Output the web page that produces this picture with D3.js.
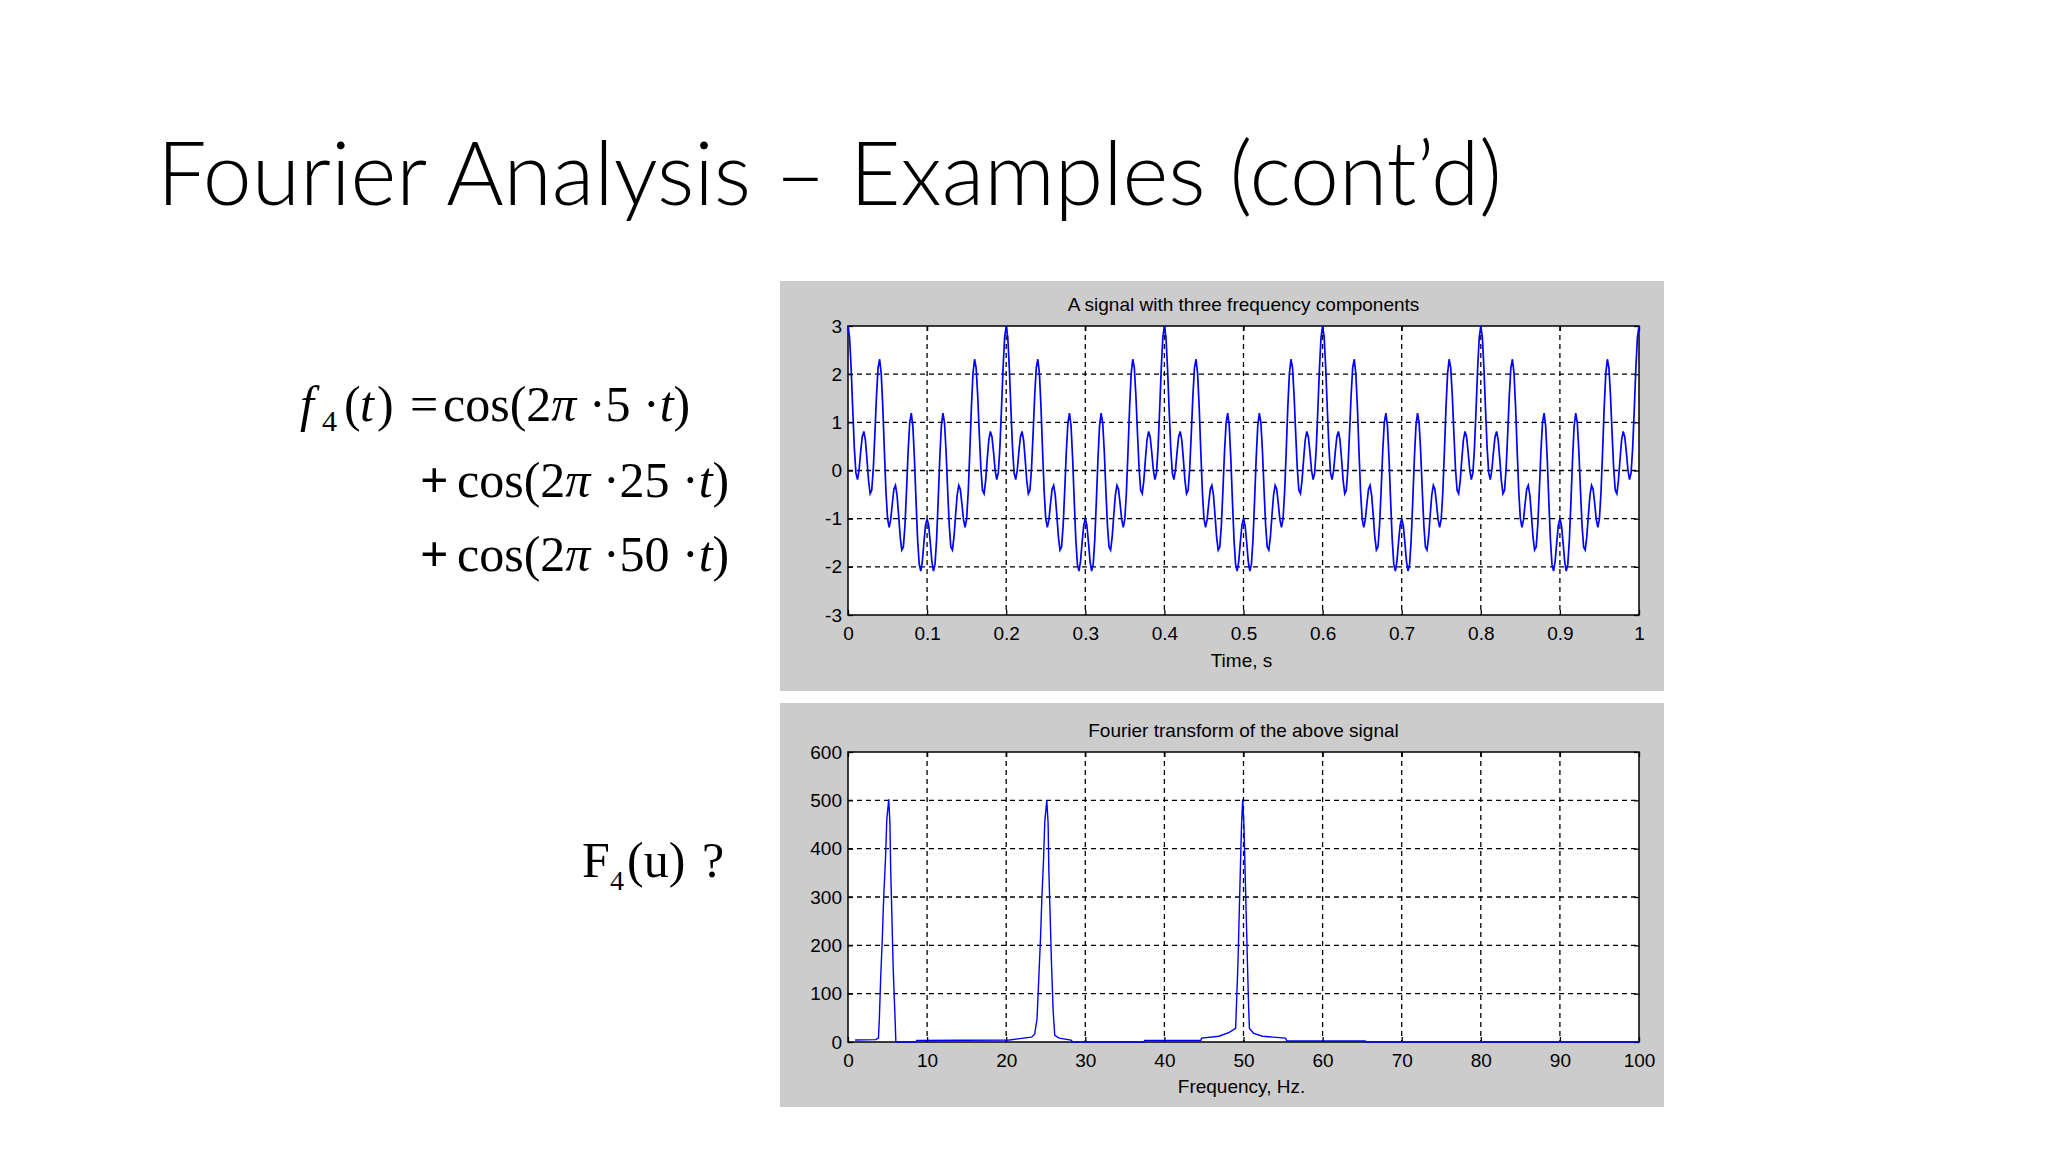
<!DOCTYPE html>
<html>
<head>
<meta charset="utf-8">
<script src="https://cdn.jsdelivr.net/npm/d3@7"></script>
<style>
  html, body { margin: 0; padding: 0; background: #ffffff; }
  svg { display: block; }
</style>
</head>
<body>
<svg id="slide" width="2048" height="1152"></svg>
<script>
// ---------------- DATA ----------------
const slideTitle = "Fourier Analysis – Examples (cont’d)";
const topTitle = "A signal with three frequency components";
const topXLabel = "Time, s";
const bottomTitle = "Fourier transform of the above signal";
const bottomXLabel = "Frequency, Hz.";

const timeTicks = [0, 0.1, 0.2, 0.3, 0.4, 0.5, 0.6, 0.7, 0.8, 0.9, 1];
const timeTickLabels = ["0", "0.1", "0.2", "0.3", "0.4", "0.5", "0.6", "0.7", "0.8", "0.9", "1"];
const ampTicks = [-3, -2, -1, 0, 1, 2, 3];
const ampTickLabels = ["-3", "-2", "-1", "0", "1", "2", "3"];
const freqTicks = [0, 10, 20, 30, 40, 50, 60, 70, 80, 90, 100];
const magTicks = [0, 100, 200, 300, 400, 500, 600];

// time step between signal samples (s)
const sampleStep = 0.002;
// signal samples (501 samples, 0..1 s)
const signalValues = [
3.00,2.76,2.11,1.26,0.47,-0.05,-0.19,0.01,0.38,0.70,
0.81,0.63,0.23,-0.21,-0.48,-0.41,0.04,0.76,1.54,2.13,
2.31,2.01,1.31,0.40,-0.44,-1.00,-1.18,-1.02,-0.69,-0.39,
-0.31,-0.51,-0.93,-1.38,-1.65,-1.59,-1.14,-0.41,0.39,0.99,
1.19,0.92,0.24,-0.63,-1.43,-1.95,-2.09,-1.88,-1.49,-1.14,
-1.00,-1.14,-1.49,-1.88,-2.09,-1.95,-1.43,-0.63,0.24,0.92,
1.19,0.99,0.39,-0.41,-1.14,-1.59,-1.65,-1.38,-0.93,-0.51,
-0.31,-0.39,-0.69,-1.02,-1.18,-1.00,-0.44,0.40,1.31,2.01,
2.31,2.13,1.54,0.76,0.04,-0.41,-0.48,-0.21,0.23,0.63,
0.81,0.70,0.38,0.01,-0.19,-0.05,0.47,1.26,2.11,2.76,
3.00,2.76,2.11,1.26,0.47,-0.05,-0.19,0.01,0.38,0.70,
0.81,0.63,0.23,-0.21,-0.48,-0.41,0.04,0.76,1.54,2.13,
2.31,2.01,1.31,0.40,-0.44,-1.00,-1.18,-1.02,-0.69,-0.39,
-0.31,-0.51,-0.93,-1.38,-1.65,-1.59,-1.14,-0.41,0.39,0.99,
1.19,0.92,0.24,-0.63,-1.43,-1.95,-2.09,-1.88,-1.49,-1.14,
-1.00,-1.14,-1.49,-1.88,-2.09,-1.95,-1.43,-0.63,0.24,0.92,
1.19,0.99,0.39,-0.41,-1.14,-1.59,-1.65,-1.38,-0.93,-0.51,
-0.31,-0.39,-0.69,-1.02,-1.18,-1.00,-0.44,0.40,1.31,2.01,
2.31,2.13,1.54,0.76,0.04,-0.41,-0.48,-0.21,0.23,0.63,
0.81,0.70,0.38,0.01,-0.19,-0.05,0.47,1.26,2.11,2.76,
3.00,2.76,2.11,1.26,0.47,-0.05,-0.19,0.01,0.38,0.70,
0.81,0.63,0.23,-0.21,-0.48,-0.41,0.04,0.76,1.54,2.13,
2.31,2.01,1.31,0.40,-0.44,-1.00,-1.18,-1.02,-0.69,-0.39,
-0.31,-0.51,-0.93,-1.38,-1.65,-1.59,-1.14,-0.41,0.39,0.99,
1.19,0.92,0.24,-0.63,-1.43,-1.95,-2.09,-1.88,-1.49,-1.14,
-1.00,-1.14,-1.49,-1.88,-2.09,-1.95,-1.43,-0.63,0.24,0.92,
1.19,0.99,0.39,-0.41,-1.14,-1.59,-1.65,-1.38,-0.93,-0.51,
-0.31,-0.39,-0.69,-1.02,-1.18,-1.00,-0.44,0.40,1.31,2.01,
2.31,2.13,1.54,0.76,0.04,-0.41,-0.48,-0.21,0.23,0.63,
0.81,0.70,0.38,0.01,-0.19,-0.05,0.47,1.26,2.11,2.76,
3.00,2.76,2.11,1.26,0.47,-0.05,-0.19,0.01,0.38,0.70,
0.81,0.63,0.23,-0.21,-0.48,-0.41,0.04,0.76,1.54,2.13,
2.31,2.01,1.31,0.40,-0.44,-1.00,-1.18,-1.02,-0.69,-0.39,
-0.31,-0.51,-0.93,-1.38,-1.65,-1.59,-1.14,-0.41,0.39,0.99,
1.19,0.92,0.24,-0.63,-1.43,-1.95,-2.09,-1.88,-1.49,-1.14,
-1.00,-1.14,-1.49,-1.88,-2.09,-1.95,-1.43,-0.63,0.24,0.92,
1.19,0.99,0.39,-0.41,-1.14,-1.59,-1.65,-1.38,-0.93,-0.51,
-0.31,-0.39,-0.69,-1.02,-1.18,-1.00,-0.44,0.40,1.31,2.01,
2.31,2.13,1.54,0.76,0.04,-0.41,-0.48,-0.21,0.23,0.63,
0.81,0.70,0.38,0.01,-0.19,-0.05,0.47,1.26,2.11,2.76,
3.00,2.76,2.11,1.26,0.47,-0.05,-0.19,0.01,0.38,0.70,
0.81,0.63,0.23,-0.21,-0.48,-0.41,0.04,0.76,1.54,2.13,
2.31,2.01,1.31,0.40,-0.44,-1.00,-1.18,-1.02,-0.69,-0.39,
-0.31,-0.51,-0.93,-1.38,-1.65,-1.59,-1.14,-0.41,0.39,0.99,
1.19,0.92,0.24,-0.63,-1.43,-1.95,-2.09,-1.88,-1.49,-1.14,
-1.00,-1.14,-1.49,-1.88,-2.09,-1.95,-1.43,-0.63,0.24,0.92,
1.19,0.99,0.39,-0.41,-1.14,-1.59,-1.65,-1.38,-0.93,-0.51,
-0.31,-0.39,-0.69,-1.02,-1.18,-1.00,-0.44,0.40,1.31,2.01,
2.31,2.13,1.54,0.76,0.04,-0.41,-0.48,-0.21,0.23,0.63,
0.81,0.70,0.38,0.01,-0.19,-0.05,0.47,1.26,2.11,2.76,
3.00
];

// spectrum
const spectrumFreq = [0.9,3.5,3.85,3.96,4.13,4.34,4.5,4.75,4.9,5.15,5.3,5.4,5.55,5.72,5.95,6.05,
  8.6,8.7,20.4,21.7,23.2,23.6,23.9,24.12,24.34,24.5,24.72,24.88,25.13,25.3,25.39,25.56,25.73,25.94,26.14,26.7,28.2,28.4,
  37.4,37.5,44.6,44.7,46.9,48.2,49.0,49.1,49.3,49.45,49.6,49.75,49.9,50.05,50.2,50.35,50.5,50.65,50.75,51.3,52.4,55.3,55.5,65.4,65.5,100];
const spectrumMag = [4,5,8,47,132,215,294,383,459,502,452,356,259,149,49,0,
  0,3,4,7,10,16,48,132,215,294,377,456,500,452,356,259,160,63,14,8,4,0,
  0,3,3,8,12,20,28,70,163,259,356,449,502,449,356,259,163,70,28,18,12,8,2,2,0,0];

// ---------------- DRAWING ----------------
const svg = d3.select("#slide");
const matlabFont = "'Liberation Sans', Arial, sans-serif";

svg.append("rect").attr("width", 2048).attr("height", 1152).attr("fill", "#ffffff");

// slide title
svg.append("text")
  .attr("x", 157).attr("y", 205)
  .attr("font-family", "Lato, 'Open Sans', sans-serif")
  .attr("font-weight", 300)
  .attr("font-size", 88)
  .attr("textLength", 1345)
  .attr("lengthAdjust", "spacingAndGlyphs")
  .attr("fill", "#000")
  .text(slideTitle);

function drawPanel(cfg) {
  const g = svg.append("g");
  g.append("rect").attr("x", cfg.box[0]).attr("y", cfg.box[1])
    .attr("width", cfg.box[2]).attr("height", cfg.box[3]).attr("fill", "#cccccc");
  const x = d3.scaleLinear().domain(cfg.xDomain).range([cfg.left, cfg.right]);
  const y = d3.scaleLinear().domain(cfg.yDomain).range([cfg.bottom, cfg.top]);
  g.append("rect").attr("x", cfg.left).attr("y", cfg.top)
    .attr("width", cfg.right - cfg.left).attr("height", cfg.bottom - cfg.top)
    .attr("fill", "#ffffff");

  // grid
  const grid = g.append("g").attr("stroke", "#000").attr("stroke-width", 1.3)
    .attr("stroke-dasharray", "5,4");
  cfg.xTicks.slice(1, -1).forEach(v => {
    grid.append("line").attr("x1", x(v)).attr("x2", x(v))
      .attr("y1", cfg.top).attr("y2", cfg.bottom);
  });
  cfg.yTicks.slice(1, -1).forEach(v => {
    grid.append("line").attr("x1", cfg.left).attr("x2", cfg.right)
      .attr("y1", y(v)).attr("y2", y(v));
  });

  const styleAxis = sel => {
    sel.select(".domain").remove();
    sel.selectAll("line").attr("stroke", "#000").attr("stroke-width", 1.3);
    sel.selectAll("text").attr("font-family", matlabFont).attr("font-size", 19).attr("fill", "#000");
  };
  g.append("g").attr("transform", `translate(0,${cfg.bottom})`)
    .call(d3.axisBottom(x).tickValues(cfg.xTicks).tickFormat((d, i) => cfg.xLabels[i])
      .tickSize(-5).tickPadding(12)).call(styleAxis);
  g.append("g").attr("transform", `translate(0,${cfg.top})`)
    .call(d3.axisTop(x).tickValues(cfg.xTicks).tickFormat("").tickSize(-5)).call(styleAxis);
  g.append("g").attr("transform", `translate(${cfg.left},0)`)
    .call(d3.axisLeft(y).tickValues(cfg.yTicks).tickFormat((d, i) => cfg.yLabels[i])
      .tickSize(-5).tickPadding(6)).call(styleAxis);
  g.append("g").attr("transform", `translate(${cfg.right},0)`)
    .call(d3.axisRight(y).tickValues(cfg.yTicks).tickFormat("").tickSize(-5)).call(styleAxis);

  // box
  g.append("rect").attr("x", cfg.left).attr("y", cfg.top)
    .attr("width", cfg.right - cfg.left).attr("height", cfg.bottom - cfg.top)
    .attr("fill", "none").attr("stroke", "#000").attr("stroke-width", 1.5);

  // data line
  const line = d3.line().x(d => x(d[0])).y(d => y(d[1]));
  g.append("path").datum(cfg.points).attr("d", line)
    .attr("fill", "none").attr("stroke", "#0000ff").attr("stroke-width", cfg.lineWidth)
    .attr("stroke-linejoin", "miter");

  // title & label
  const cx = (cfg.left + cfg.right) / 2;
  g.append("text").attr("x", cx).attr("y", cfg.titleY).attr("text-anchor", "middle")
    .attr("font-family", matlabFont).attr("font-size", 19).attr("fill", "#000").text(cfg.title);
  g.append("text").attr("x", cx - 2).attr("y", cfg.xLabelY).attr("text-anchor", "middle")
    .attr("font-family", matlabFont).attr("font-size", 19).attr("fill", "#000").text(cfg.xLabel);
}

drawPanel({
  box: [780, 281, 884, 410],
  left: 848, right: 1639, top: 326, bottom: 615,
  xDomain: [0, 1], yDomain: [-3, 3],
  xTicks: timeTicks, xLabels: timeTickLabels, yTicks: ampTicks, yLabels: ampTickLabels,
  points: signalValues.map((v, i) => [i * sampleStep, v]),
  lineWidth: 1.7,
  title: topTitle, titleY: 311, xLabel: topXLabel, xLabelY: 667
});

drawPanel({
  box: [780, 703, 884, 404],
  left: 848, right: 1639, top: 752, bottom: 1042,
  xDomain: [0, 100], yDomain: [0, 600],
  xTicks: freqTicks, xLabels: freqTicks.map(String), yTicks: magTicks, yLabels: magTicks.map(String),
  points: spectrumFreq.map((f, i) => [f, spectrumMag[i]]),
  lineWidth: 1.4,
  title: bottomTitle, titleY: 737, xLabel: bottomXLabel, xLabelY: 1093
});

// ---------------- FORMULAS ----------------
const serif = "'Liberation Serif', 'Times New Roman', serif";
function formulaText(yb) {
  return svg.append("text").attr("y", yb)
    .attr("font-family", serif).attr("font-size", 50).attr("fill", "#000");
}
function addSpan(t, txt, opts = {}) {
  const s = t.append("tspan").text(txt);
  if (opts.x !== undefined) s.attr("x", opts.x);
  if (opts.y !== undefined) s.attr("y", opts.y);
  if (opts.italic) s.attr("font-style", "italic");
  if (opts.bold) s.attr("font-weight", "bold");
  if (opts.size) s.attr("font-size", opts.size);
  return s;
}
function cosTerm(t, x, k) {
  addSpan(t, "cos(2", { x: x });
  addSpan(t, "π", { italic: true });
  addSpan(t, "\u00A0·" + k + "\u00A0·");
  addSpan(t, "t", { italic: true });
  addSpan(t, ")");
}
// line 1
const l1 = formulaText(421);
addSpan(l1, "f", { x: 300, italic: true });
addSpan(l1, "4", { x: 322, y: 431, size: 30 });
addSpan(l1, "(", { x: 344, y: 421 });
addSpan(l1, "t", { x: 360, italic: true });
addSpan(l1, ")", { x: 377 });
addSpan(l1, "=", { x: 410 });
cosTerm(l1, 443, "5");
// line 2
const l2 = formulaText(497);
addSpan(l2, "+", { x: 420, bold: true });
cosTerm(l2, 457, "25");
// line 3
const l3 = formulaText(571);
addSpan(l3, "+", { x: 420, bold: true });
cosTerm(l3, 457, "50");

// F4(u) ?
const l4 = formulaText(877);
addSpan(l4, "F", { x: 582 });
addSpan(l4, "4", { x: 610, y: 890, size: 28 });
addSpan(l4, "(u)", { x: 627, y: 877 });
addSpan(l4, "?", { x: 702 });
</script>
</body>
</html>
